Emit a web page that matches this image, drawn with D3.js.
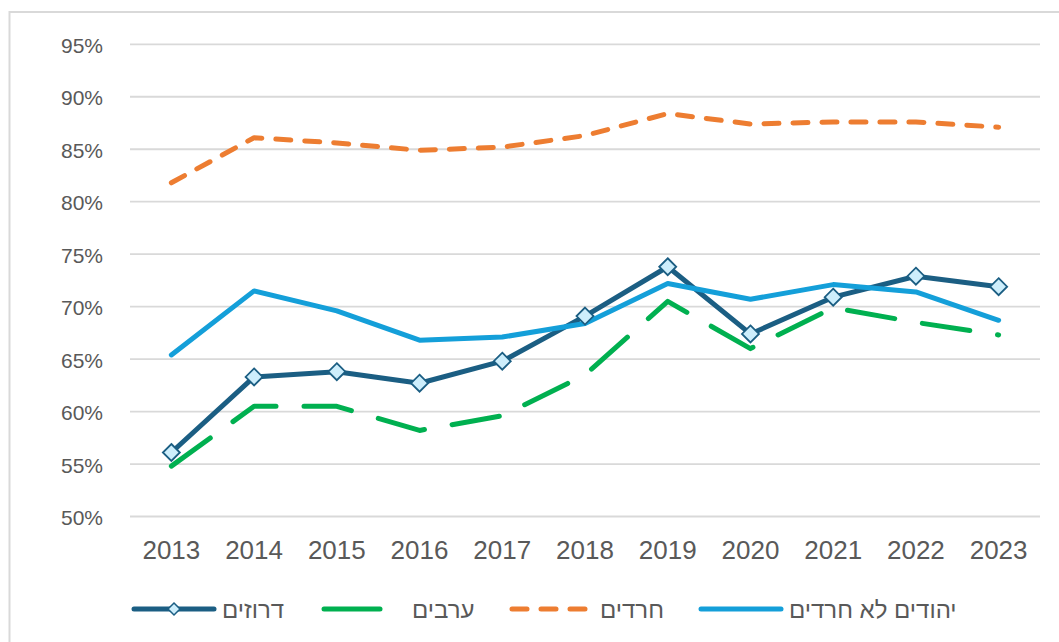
<!DOCTYPE html>
<html><head><meta charset="utf-8">
<script src="https://cdn.jsdelivr.net/npm/d3@7"></script>
<style>html,body{margin:0;padding:0;background:#fff;}svg{display:block;font-family:"Liberation Sans",Arial,sans-serif;}</style>
</head><body>
<svg id="c" width="1059" height="642"></svg>
<script>
const years = [2013,2014,2015,2016,2017,2018,2019,2020,2021,2022,2023];
const druze = [56.1,63.3,63.8,62.7,64.8,69.1,73.8,67.4,70.9,72.9,71.9];
const arabs = [54.8,60.5,60.5,58.2,59.6,63.5,70.5,66.0,69.9,68.5,67.3];
const haredim = [81.8,86.1,85.6,84.9,85.2,86.3,88.4,87.4,87.6,87.6,87.1];
const jewsNonHaredi = [65.4,71.5,69.6,66.8,67.1,68.4,72.2,70.7,72.1,71.4,68.7];
const yTicks = [50,55,60,65,70,75,80,85,90,95];
const seriesNames = ["דרוזים","ערבים","חרדים","יהודים לא חרדים"];

const svg = d3.select("#c");
svg.append("rect").attr("x",9.5).attr("y",12).attr("width",1100).attr("height",700)
  .attr("fill","#fff").attr("stroke","#d9d9d9").attr("stroke-width",2);

const x = d3.scalePoint().domain(years).range([130,1040]).padding(0.5);
const y = d3.scaleLinear().domain([50,95]).range([516.5,44.3]);

// grid
svg.append("g").selectAll("line").data(yTicks).join("line")
  .attr("x1",130).attr("x2",1040).attr("y1",d=>y(d)).attr("y2",d=>y(d))
  .attr("stroke","#d9d9d9").attr("stroke-width",1.8);
svg.append("g").selectAll("text").data(yTicks).join("text")
  .attr("x",103).attr("y",d=>y(d)+8.5).attr("text-anchor","end")
  .attr("font-size",21).attr("fill","#595959").text(d=>d+"%");
svg.append("g").selectAll("text").data(years).join("text")
  .attr("x",d=>x(d)).attr("y",559).attr("text-anchor","middle")
  .attr("font-size",26).attr("fill","#595959").text(d=>d);

const styles = [
  {data:druze, color:"#1b5e83", w:5, dash:null},
  {data:arabs, color:"#00b050", w:5, dash:"48,28"},
  {data:haredim, color:"#ed7d31", w:5, dash:"15,14"},
  {data:jewsNonHaredi, color:"#149fd9", w:5, dash:null}
];
const line = d3.line().x((d,i)=>x(years[i])).y(d=>y(d));
styles.forEach(s=>{
  svg.append("path").datum(s.data).attr("d",line).attr("fill","none")
    .attr("stroke",s.color).attr("stroke-width",s.w)
    .attr("stroke-linejoin","round").attr("stroke-linecap","round")
    .attr("stroke-dasharray",s.dash);
});
const diamond = (cx,cy,r)=>`M${cx},${cy-r}L${cx+r},${cy}L${cx},${cy+r}L${cx-r},${cy}Z`;
svg.append("g").selectAll("path").data(druze).join("path")
  .attr("d",(d,i)=>diamond(x(years[i]),y(d),8.5))
  .attr("fill","#cdeefc").attr("stroke","#1b5e83").attr("stroke-width",1.8);

// legend
const legX = [134,324,512,701];
const ly = 609;
styles.forEach((s,i)=>{
  const g = svg.append("g");
  g.append("line").attr("x1",legX[i]).attr("x2",legX[i]+(i==1?56:80)).attr("y1",ly).attr("y2",ly)
    .attr("stroke",s.color).attr("stroke-width",5).attr("stroke-linecap","round")
    .attr("stroke-dasharray",i==2?"15,14":null);
  if(i==0) g.append("path").attr("d",diamond(legX[i]+40,ly,6)).attr("fill","#cdeefc").attr("stroke","#1b5e83").attr("stroke-width",1.5);
  g.append("text").attr("x",legX[i]+88).attr("y",ly+8.5).attr("text-anchor","start")
    .attr("font-size",24).attr("fill","#595959").text(seriesNames[i]);
});
</script>
</body></html>
